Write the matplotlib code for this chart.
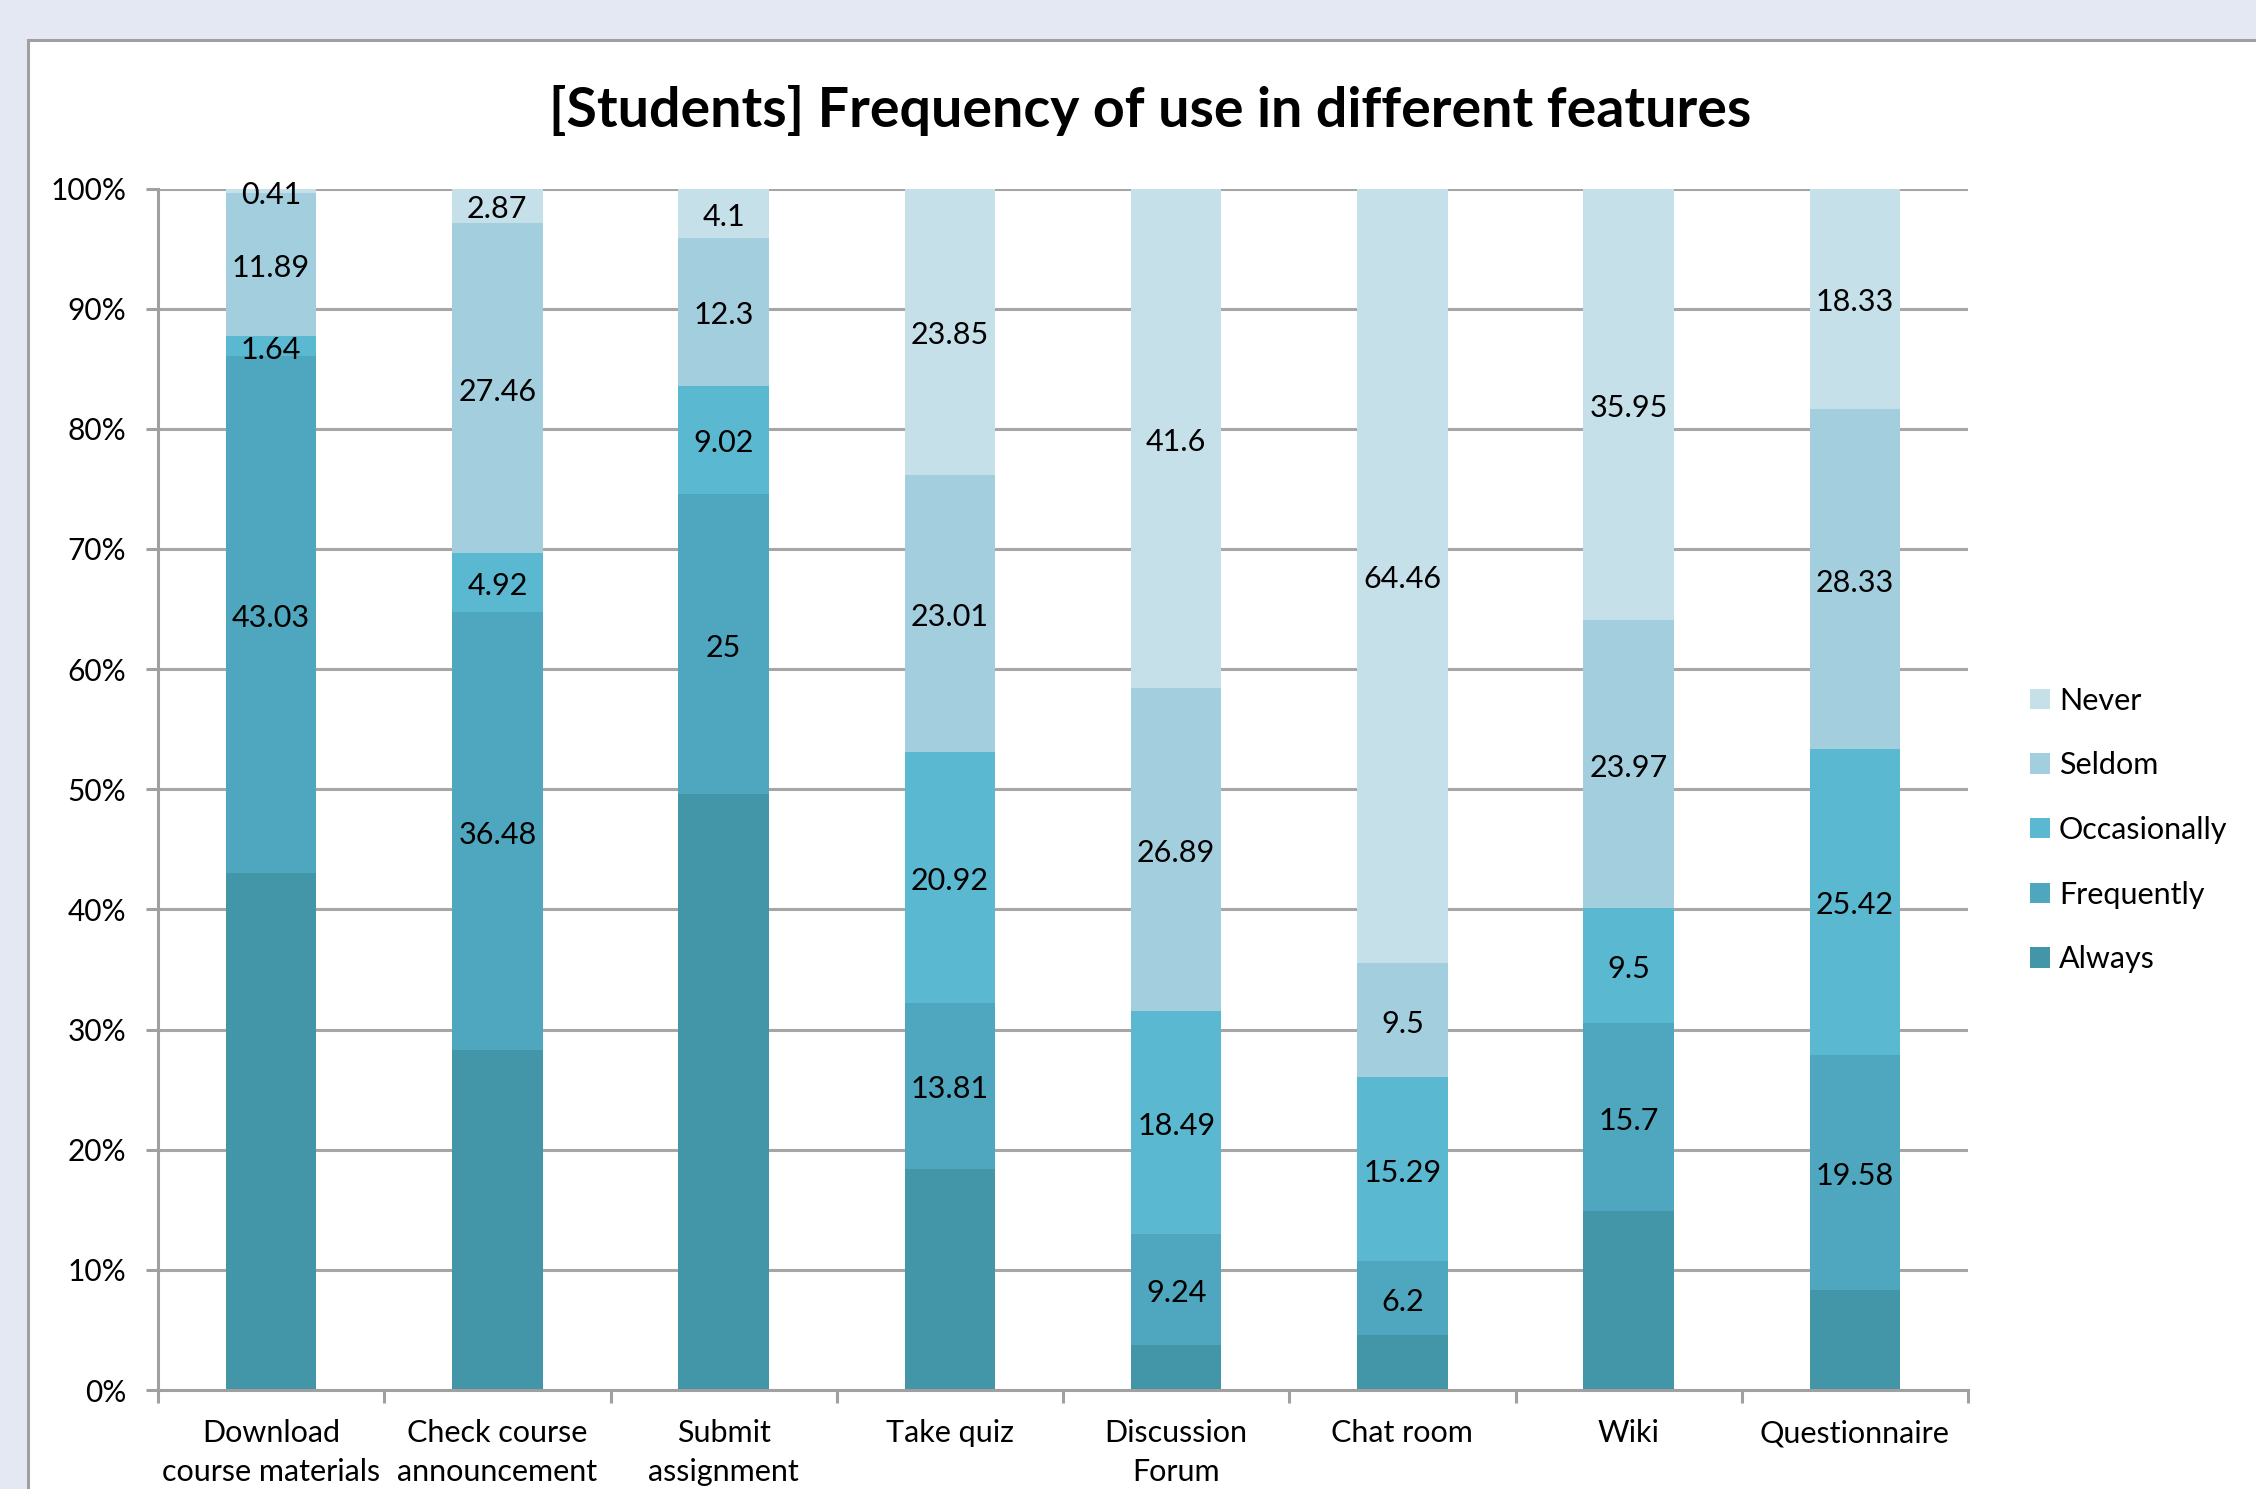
# graphique en barres empilees 100% : frequence d'utilisation par fonctionnalite
import numpy as np
import matplotlib
matplotlib.use("Agg")
import matplotlib.pyplot as plt
from matplotlib.patches import Rectangle

plt.rcParams['font.family'] = ['Lato', 'DejaVu Sans']

features = ['Download\ncourse materials', 'Check course\nannouncement', 'Submit\nassignment',
            'Take quiz', 'Discussion\nForum', 'Chat room', 'Wiki', 'Questionnaire']
levels = ['Always', 'Frequently', 'Occasionally', 'Seldom', 'Never']

always = [43.03, 28.27, 49.58, 18.41, 3.78, 4.55, 14.88, 8.34]
frequently = [43.03, 36.48, 25, 13.81, 9.24, 6.2, 15.7, 19.58]
occasionally = [1.64, 4.92, 9.02, 20.92, 18.49, 15.29, 9.5, 25.42]
seldom = [11.89, 27.46, 12.3, 23.01, 26.89, 9.5, 23.97, 28.33]
never = [0.41, 2.87, 4.1, 23.85, 41.6, 64.46, 35.95, 18.33]

colors = {'Always': '#4395A8', 'Frequently': '#4EA7BE', 'Occasionally': '#5BB8D1',
          'Seldom': '#A3CEDD', 'Never': '#C6E0E9'}
show_labels = {'Always': False, 'Frequently': True, 'Occasionally': True,
               'Seldom': True, 'Never': True}

series = {'Always': always, 'Frequently': frequently, 'Occasionally': occasionally,
          'Seldom': seldom, 'Never': never}

W, H = 2256, 1489
fig = plt.figure(figsize=(W / 100, H / 100), dpi=100)
fig.patch.set_facecolor('#E4E8F3')

# panneau blanc avec bordure grise
panel = Rectangle((28 / W, -0.1), 1.2, 1 - 40 / H + 0.1, transform=fig.transFigure,
                  facecolor='white', edgecolor='#A0A0A0', linewidth=2.2, zorder=-1)
fig.add_artist(panel)

ax = fig.add_axes([158 / W, 1 - 1390 / H, (1968 - 158) / W, (1390 - 188.5) / H])
ax.set_facecolor('white')

x = np.arange(len(features))
bottom = np.zeros(len(features))
handles = {}
for lv in levels:
    vals = np.array(series[lv], dtype=float)
    b = ax.bar(x, vals, width=0.4, bottom=bottom, color=colors[lv], linewidth=0, zorder=2)
    handles[lv] = b
    if show_labels[lv]:
        for xi, v, bt in zip(x, vals, bottom):
            ax.text(xi, bt + v / 2 - 0.3, f'{v:g}', ha='center', va='center', fontsize=22,
                    color='black', zorder=3)
    bottom += vals

ax.set_xlim(-0.5, len(features) - 0.5)
ax.set_ylim(0, 100)
ax.set_yticks(np.arange(0, 101, 10))
ax.set_yticklabels([f'{v}%' for v in range(0, 101, 10)], fontsize=21.5)
ax.yaxis.grid(True, color='#A6A6A6', linewidth=2.2, zorder=0)
ax.set_axisbelow(True)

ax.set_xticks(x)
ax.set_xticklabels(features, fontsize=22, linespacing=1.45)
ax.set_xticks(np.arange(-0.5, len(features)), minor=True)
ax.tick_params(axis='x', which='major', length=0, pad=21)
ax.tick_params(axis='x', which='minor', length=9, width=2.2, color='#A0A0A0', direction='out')
ax.tick_params(axis='y', length=9, width=2.2, color='#A0A0A0', direction='out', pad=14)

for s in ['top', 'right']:
    ax.spines[s].set_visible(False)
for s in ['left', 'bottom']:
    ax.spines[s].set_color('#A0A0A0')
    ax.spines[s].set_linewidth(2.2)

fig.text(0.510, 1 - 111 / H, '[Students] Frequency of use in different features',
         ha='center', va='center', fontsize=40, fontweight='bold')

order = ['Never', 'Seldom', 'Occasionally', 'Frequently', 'Always']
fig.legend([handles[k] for k in order], order, loc='center left',
           bbox_to_anchor=(2030 / W, 1 - 830 / H), frameon=False, fontsize=22,
           handlelength=0.65, handleheight=0.65, handletextpad=0.3, labelspacing=1.2,
           borderpad=0, borderaxespad=0)

fig.savefig('out.png', dpi=100, facecolor=fig.get_facecolor())
